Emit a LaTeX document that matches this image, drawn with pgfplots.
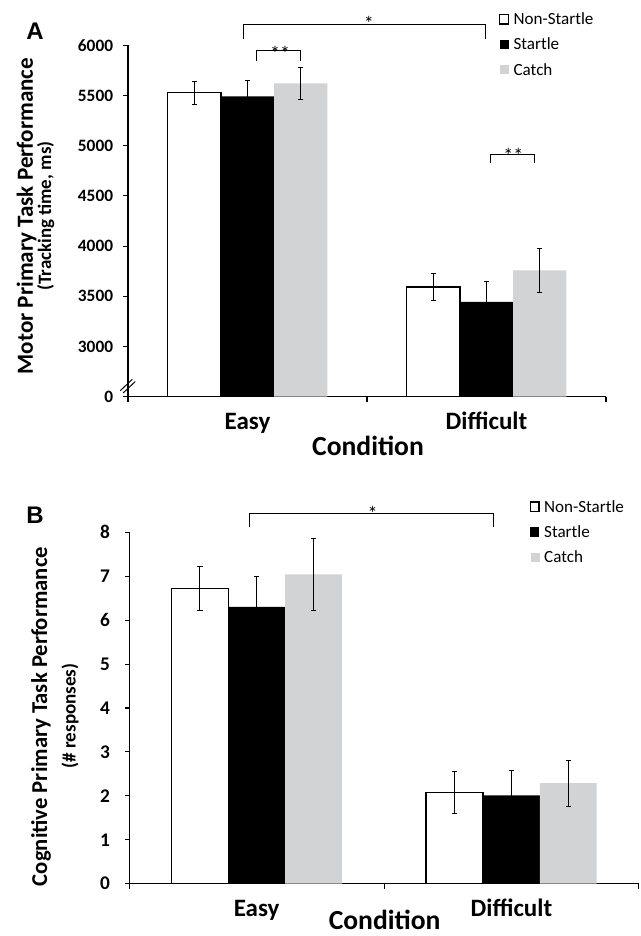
\documentclass[border=0pt]{standalone}
\usepackage{fontspec}
\setmainfont{Carlito}
\newfontfamily\arialfont{Liberation Sans}
\usepackage{pgfplots}
\pgfplotsset{compat=1.18}
\definecolor{catchgray}{RGB}{209,211,212}

\newcommand{\fs}[1]{\fontsize{#1}{#1}\selectfont}

\pgfplotsset{
  panel/.style={
    scale only axis, anchor=south west,
    ybar, bar width=0.223,
    xmin=-0.5, xmax=1.5,
    axis x line*=bottom, axis y line*=left,
    axis line style={-, line width=0.8pt},
    every tick/.style={black, line width=0.8pt},
    tick align=outside, major tick length=3.4pt, minor tick length=4.2pt,
    xtick={0,1}, xticklabels={Easy,Difficult},
    major x tick style={draw=none},
    minor xtick={-0.5,0.5,1.5},
    xticklabel style={font=\fs{18.75}\bfseries, anchor=base, inner sep=0pt, yshift=-21.5pt},
    clip mode=individual,
    error bars/y dir=both, error bars/y explicit,
    error bars/error bar style={black, line width=0.75pt},
    error bars/error mark options={black, rotate=90, line width=0.75pt, mark size=2pt},
    legend style={draw=none, fill=none, font=\fs{12.8}, anchor=north west,
      row sep=9.85pt, column sep=3.2pt, inner sep=0pt,
      nodes={inner sep=0pt, text height=9pt, text depth=0pt},
      cells={anchor=west}},
  },
  ns/.style={fill=white, draw=black, line width=1.1pt, bar shift=-0.223,
    legend image code/.code={\draw[fill=white, draw=black, line width=1.1pt] (0.4pt,-3.9pt) rectangle (7.1pt,3.1pt);}},
  st/.style={fill=black, draw=none, bar shift=0,
    legend image code/.code={\fill[black] (0.4pt,-3.8pt) rectangle (7.1pt,3.0pt);}},
  ca/.style={fill=catchgray, draw=none, bar shift=0.223,
    legend image code/.code={\fill[catchgray] (0.9pt,-3.8pt) rectangle (7.6pt,3.0pt);}},
}

\begin{document}
\begin{tikzpicture}
\useasboundingbox (0,0) rectangle (480pt,702pt);

% ---------------- Panel A ----------------
\begin{axis}[panel,
  at={(96pt,404.5pt)}, width=358.5pt, height=263.55pt,
  ymin=2500, ymax=6000,
  ytick={2500,3000,...,6000},
  yticklabels={0,3000,3500,4000,4500,5000,5500,6000},
  yticklabel style={font=\fs{13}\bfseries, anchor=east, inner sep=0pt, xshift=-7.6pt},
  legend style={at={(0.7755,1.0933)}},
]
\addplot[ns] coordinates {(0,5527) +- (0,114) (1,3590) +- (0,134)};
\addplot[st] coordinates {(0,5490) +- (0,160) (1,3445) +- (0,205)};
\addplot[ca] coordinates {(0,5620) +- (0,163) (1,3758) +- (0,219)};
\legend{Non-Startle,Startle,Catch}
% significance brackets
\draw[line width=0.75pt] (axis cs:-0.016,6063) -- (axis cs:-0.016,6205) -- (axis cs:0.997,6205) -- (axis cs:0.997,6063);
\node[font=\fs{15}, anchor=base, inner sep=0pt, yshift=-4.5pt] at (axis cs:0.508,6205) {*};
\draw[line width=0.75pt] (axis cs:0.0385,5847) -- (axis cs:0.0385,5943) -- (axis cs:0.2226,5943) -- (axis cs:0.2226,5847);
\node[font=\fs{15}, anchor=base, inner sep=0pt, yshift=-7pt] at (axis cs:0.136,5943) {**};
\draw[line width=0.75pt] (axis cs:1.015,4825) -- (axis cs:1.015,4910) -- (axis cs:1.2,4910) -- (axis cs:1.2,4825);
\node[font=\fs{15}, anchor=base, inner sep=0pt, yshift=-6pt] at (axis cs:1.112,4910) {**};
\end{axis}

% axis break marks
\draw[line width=0.75pt] (90.2pt,409.0pt) -- (99.2pt,417.5pt);
\draw[line width=0.75pt] (92.4pt,407.3pt) -- (101.4pt,415.8pt);

\node[font=\arialfont\fs{18}\bfseries, inner sep=0pt] at (26.25pt,678.2pt) {A};
\node[rotate=90, inner sep=0pt, font=\fs{17.3}\bfseries] at (20pt,540pt) {Motor Primary Task Performance};
\node[rotate=90, inner sep=0pt, font=\fs{14.2}\bfseries] at (34.35pt,540pt) {(Tracking time, ms)};
\node[anchor=base, inner sep=0pt, font=\fs{20.7}\bfseries] at (276pt,360pt) {Condition};

% ---------------- Panel B ----------------
\begin{axis}[panel,
  at={(96.975pt,39.225pt)}, width=382.125pt, height=263.55pt,
  ymin=0, ymax=8,
  ytick={0,1,...,8},
  yticklabels={0,1,2,3,4,5,6,7,8},
  yticklabel style={font=\fs{14.5}\bfseries, anchor=east, inner sep=0pt, xshift=-11pt},
  legend style={at={(0.785,1.0923)}, row sep=10pt},
]
\addplot[ns] coordinates {(0,6.72) +- (0,0.495) (1,2.08) +- (0,0.485)};
\addplot[st] coordinates {(0,6.30) +- (0,0.69) (1,2.01) +- (0,0.56)};
\addplot[ca] coordinates {(0,7.04) +- (0,0.81) (1,2.29) +- (0,0.525)};
\legend{Non-Startle,Startle,Catch}
\draw[line width=0.75pt] (axis cs:-0.027,8.11) -- (axis cs:-0.027,8.43) -- (axis cs:0.929,8.43) -- (axis cs:0.929,8.11);
\node[font=\fs{15}, anchor=base, inner sep=0pt, yshift=-5pt] at (axis cs:0.455,8.43) {*};
\end{axis}

\node[font=\arialfont\fs{18}\bfseries, inner sep=0pt] at (26.25pt,315.75pt) {B};
\node[rotate=90, inner sep=0pt, font=\fs{17}\bfseries] at (30.75pt,164.6pt) {Cognitive Primary Task Performance};
\node[rotate=90, inner sep=0pt, font=\fs{14.3}\bfseries] at (52.5pt,165pt) {(\# responses)};
\node[anchor=base, inner sep=0pt, font=\fs{20.7}\bfseries] at (288.45pt,5pt) {Condition};
\end{tikzpicture}
\end{document}
